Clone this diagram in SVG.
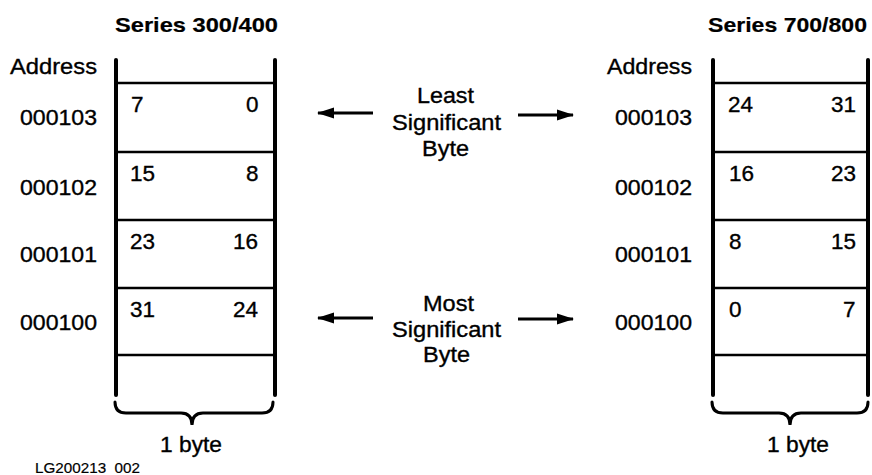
<svg xmlns="http://www.w3.org/2000/svg" width="872" height="475" viewBox="0 0 872 475">
  <style>
    text { font-family: "Liberation Sans", Arial, Helvetica, sans-serif; fill: #000; stroke: #000; stroke-width: 0.35; }
    .t { font-size: 21.5px; }
    .title { font-size: 21px; font-weight: bold; stroke-width: 0.2; }
    .small { font-size: 15px; stroke-width: 0.2; white-space: pre; }
    .v { stroke: #000; stroke-width: 4; stroke-linecap: round; fill: none; }
    .h { stroke: #000; stroke-width: 2.5; fill: none; }
    .brace { stroke: #000; stroke-width: 3; fill: none; stroke-linecap: round; }
    .arrow { stroke: #000; stroke-width: 3; fill: none; }
  </style>
  <defs>
    <marker id="ah" markerWidth="18" markerHeight="14" refX="16" refY="7" orient="auto" markerUnits="userSpaceOnUse">
      <path d="M0,1.5 L17,7 L0,12.5 Z" fill="#000"/>
    </marker>
  </defs>

  <!-- Left: Series 300/400 -->
  <g id="left-memory">
    <text class="title" x="115" y="32" textLength="163" lengthAdjust="spacingAndGlyphs">Series 300/400</text>
    <text class="t" x="10" y="74" textLength="87" lengthAdjust="spacingAndGlyphs">Address</text>
    <line class="v" x1="116" y1="60" x2="116" y2="395"/>
    <line class="v" x1="275" y1="60" x2="275" y2="395"/>
    <line class="h" x1="116" y1="83" x2="275" y2="83"/>
    <line class="h" x1="116" y1="152" x2="275" y2="152"/>
    <line class="h" x1="116" y1="220" x2="275" y2="220"/>
    <line class="h" x1="116" y1="288" x2="275" y2="288"/>
    <line class="h" x1="116" y1="355" x2="275" y2="355"/>
    <g id="left-row-000103">
      <text class="t" x="20" y="125" textLength="77" lengthAdjust="spacingAndGlyphs">000103</text>
      <text class="t" x="131" y="112" textLength="12.5" lengthAdjust="spacingAndGlyphs">7</text>
      <text class="t" x="246" y="112" textLength="12.5" lengthAdjust="spacingAndGlyphs">0</text>
    </g>
    <g id="left-row-000102">
      <text class="t" x="20" y="195" textLength="77" lengthAdjust="spacingAndGlyphs">000102</text>
      <text class="t" x="130" y="181" textLength="25" lengthAdjust="spacingAndGlyphs">15</text>
      <text class="t" x="246" y="181" textLength="12.5" lengthAdjust="spacingAndGlyphs">8</text>
    </g>
    <g id="left-row-000101">
      <text class="t" x="20" y="262" textLength="77" lengthAdjust="spacingAndGlyphs">000101</text>
      <text class="t" x="130" y="249" textLength="25" lengthAdjust="spacingAndGlyphs">23</text>
      <text class="t" x="233" y="249" textLength="25" lengthAdjust="spacingAndGlyphs">16</text>
    </g>
    <g id="left-row-000100">
      <text class="t" x="20" y="330" textLength="77" lengthAdjust="spacingAndGlyphs">000100</text>
      <text class="t" x="130" y="317" textLength="25" lengthAdjust="spacingAndGlyphs">31</text>
      <text class="t" x="233" y="317" textLength="25" lengthAdjust="spacingAndGlyphs">24</text>
    </g>
    <path class="brace" d="M115,402 Q115,413 126,413 L181,413 Q192,413 192,425 Q192,413 203,413 L262,413 Q273,413 273,402"/>
    <text class="t" x="160" y="452" textLength="62" lengthAdjust="spacingAndGlyphs">1 byte</text>
  </g>

  <!-- Right: Series 700/800 -->
  <g id="right-memory">
    <text class="title" x="708" y="32" textLength="159" lengthAdjust="spacingAndGlyphs">Series 700/800</text>
    <text class="t" x="607" y="74" textLength="85" lengthAdjust="spacingAndGlyphs">Address</text>
    <line class="v" x1="713" y1="60" x2="713" y2="395"/>
    <line class="v" x1="868" y1="60" x2="868" y2="395"/>
    <line class="h" x1="713" y1="83" x2="868" y2="83"/>
    <line class="h" x1="713" y1="152" x2="868" y2="152"/>
    <line class="h" x1="713" y1="220" x2="868" y2="220"/>
    <line class="h" x1="713" y1="288" x2="868" y2="288"/>
    <line class="h" x1="713" y1="355" x2="868" y2="355"/>
    <g id="right-row-000103">
      <text class="t" x="615" y="125" textLength="77" lengthAdjust="spacingAndGlyphs">000103</text>
      <text class="t" x="728" y="112" textLength="25" lengthAdjust="spacingAndGlyphs">24</text>
      <text class="t" x="831" y="112" textLength="25" lengthAdjust="spacingAndGlyphs">31</text>
    </g>
    <g id="right-row-000102">
      <text class="t" x="615" y="195" textLength="77" lengthAdjust="spacingAndGlyphs">000102</text>
      <text class="t" x="729" y="181" textLength="25" lengthAdjust="spacingAndGlyphs">16</text>
      <text class="t" x="831" y="181" textLength="25" lengthAdjust="spacingAndGlyphs">23</text>
    </g>
    <g id="right-row-000101">
      <text class="t" x="615" y="262" textLength="77" lengthAdjust="spacingAndGlyphs">000101</text>
      <text class="t" x="729" y="249" textLength="12.5" lengthAdjust="spacingAndGlyphs">8</text>
      <text class="t" x="831" y="249" textLength="25" lengthAdjust="spacingAndGlyphs">15</text>
    </g>
    <g id="right-row-000100">
      <text class="t" x="615" y="330" textLength="77" lengthAdjust="spacingAndGlyphs">000100</text>
      <text class="t" x="729" y="317" textLength="12.5" lengthAdjust="spacingAndGlyphs">0</text>
      <text class="t" x="843" y="317" textLength="12.5" lengthAdjust="spacingAndGlyphs">7</text>
    </g>
    <path class="brace" d="M712,402 Q712,413 723,413 L779,413 Q790,413 790,425 Q790,413 801,413 L857,413 Q868,413 868,402"/>
    <text class="t" x="767" y="452" textLength="62" lengthAdjust="spacingAndGlyphs">1 byte</text>
  </g>

  <!-- Middle labels -->
  <g id="lsb-label">
    <text class="t" x="417" y="103" textLength="57" lengthAdjust="spacingAndGlyphs">Least</text>
    <text class="t" x="392" y="130" textLength="109" lengthAdjust="spacingAndGlyphs">Significant</text>
    <text class="t" x="422" y="156" textLength="47" lengthAdjust="spacingAndGlyphs">Byte</text>
  </g>
  <g id="msb-label">
    <text class="t" x="423" y="311" textLength="51" lengthAdjust="spacingAndGlyphs">Most</text>
    <text class="t" x="392" y="337" textLength="109" lengthAdjust="spacingAndGlyphs">Significant</text>
    <text class="t" x="423" y="362" textLength="47" lengthAdjust="spacingAndGlyphs">Byte</text>
  </g>

  <g id="connectors">
    <line class="arrow" x1="373" y1="113" x2="318" y2="113" marker-end="url(#ah)"/>
    <line class="arrow" x1="518" y1="115" x2="573" y2="115" marker-end="url(#ah)"/>
    <line class="arrow" x1="373" y1="318" x2="318" y2="318" marker-end="url(#ah)"/>
    <line class="arrow" x1="518" y1="319" x2="573" y2="319" marker-end="url(#ah)"/>
  </g>

  <text class="small" x="35" y="473" textLength="105" lengthAdjust="spacingAndGlyphs">LG200213  002</text>
</svg>
